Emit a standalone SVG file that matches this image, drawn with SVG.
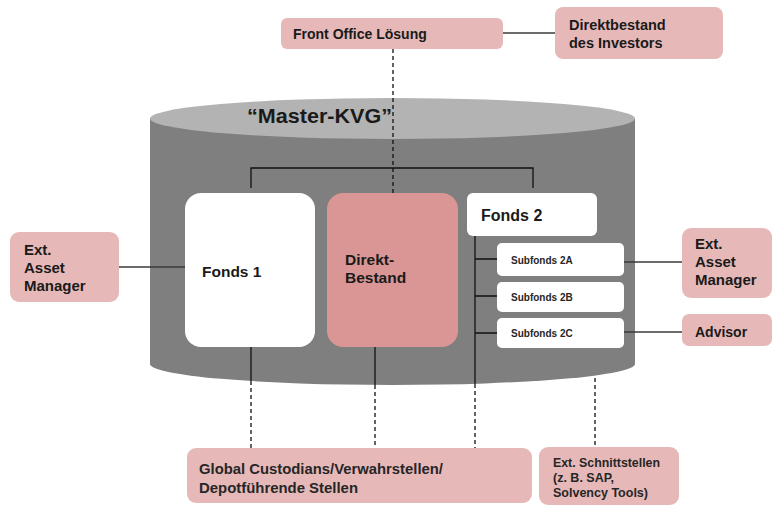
<svg xmlns="http://www.w3.org/2000/svg" width="773" height="508" viewBox="0 0 773 508">
<style>
.pink{fill:#e6b9b8}
.wbox{fill:#ffffff}
.t{font-family:"Liberation Sans",Arial,sans-serif;font-weight:bold;fill:#1a1a1a}
.tm{font-family:"Liberation Sans",Arial,sans-serif;font-weight:bold;fill:#262626}
.solid{stroke:#3a3a3a;stroke-width:1.5;fill:none}
.inner{stroke:#111111;stroke-width:1.3;fill:none}
.dash{stroke:#111111;stroke-width:1.3;stroke-dasharray:4 3;fill:none}
</style>
<rect width="773" height="508" fill="#ffffff"/>
<g id="master-kvg">
<path d="M150,118 L150,364 A242.5,21 0 0 0 635,364 L635,118 Z" fill="#7f7f7f"/>
<ellipse cx="392.5" cy="118.5" rx="242.5" ry="20.5" fill="#b3b3b3"/>
<text class="t" x="247" y="123" font-size="20" textLength="145" lengthAdjust="spacingAndGlyphs">“Master-KVG”</text>
</g>
<g id="connectors">
<path class="inner" d="M251,188 V168 H533 V188"/>
<path class="dash" d="M393,49 V193"/>
<path class="solid" d="M119,267 H185"/>
<path class="solid" d="M503,33 H555"/>
<path class="inner" d="M251,347 V381"/>
<path class="dash" d="M251,381 V448"/>
<path class="inner" d="M375,347 V385"/>
<path class="dash" d="M375,385 V448"/>
<path class="inner" d="M475,236 V384"/>
<path class="dash" d="M475,384 V448"/>
<path class="dash" d="M595,378 V447"/>
<path class="inner" d="M475,259 H497 M475,296 H497 M475,333 H497"/>
<path class="solid" d="M624,262 H682"/>
<path class="solid" d="M624,332 H682"/>
</g>
<g id="front-office">
<rect class="pink" x="281" y="18" width="222" height="31" rx="6"/>
<text class="t" x="293" y="39" font-size="14">Front Office Lösung</text>
</g>
<g id="direktbestand-investor">
<rect class="pink" x="555" y="7" width="168" height="52" rx="8"/>
<text class="t" x="569" y="30" font-size="14.5">Direktbestand</text>
<text class="t" x="569" y="48" font-size="14.5">des Investors</text>
</g>
<g id="ext-am-left">
<rect class="pink" x="10" y="232" width="109" height="70" rx="9"/>
<text class="t" x="24" y="255" font-size="15">Ext.</text>
<text class="t" x="24" y="273" font-size="15">Asset</text>
<text class="t" x="24" y="291" font-size="15">Manager</text>
</g>
<g id="fonds1">
<rect class="wbox" x="185" y="193" width="130" height="154" rx="16"/>
<text class="t" x="202" y="277" font-size="15.5">Fonds 1</text>
</g>
<g id="direkt-bestand">
<rect x="327" y="193" width="131" height="154" rx="16" fill="#d99694"/>
<text class="t" x="345" y="265" font-size="15.5">Direkt-</text>
<text class="t" x="345" y="283" font-size="15.5">Bestand</text>
</g>
<g id="fonds2">
<rect class="wbox" x="467" y="193" width="130" height="43" rx="6"/>
<text class="t" x="481" y="221" font-size="16">Fonds 2</text>
</g>
<g id="subfonds2a">
<rect class="wbox" x="497" y="243" width="127" height="33" rx="5"/>
<text class="tm" x="511" y="264" font-size="10">Subfonds 2A</text>
</g>
<g id="subfonds2b">
<rect class="wbox" x="497" y="282" width="127" height="30" rx="5"/>
<text class="tm" x="511" y="301" font-size="10">Subfonds 2B</text>
</g>
<g id="subfonds2c">
<rect class="wbox" x="497" y="318" width="127" height="30" rx="5"/>
<text class="tm" x="511" y="337" font-size="10">Subfonds 2C</text>
</g>
<g id="ext-am-right">
<rect class="pink" x="682" y="228" width="90" height="70" rx="9"/>
<text class="t" x="695" y="249" font-size="15">Ext.</text>
<text class="t" x="695" y="267" font-size="15">Asset</text>
<text class="t" x="695" y="285" font-size="15">Manager</text>
</g>
<g id="advisor">
<rect class="pink" x="682" y="314" width="90" height="32" rx="7"/>
<text class="t" x="695" y="337" font-size="14">Advisor</text>
</g>
<g id="global-custodians">
<rect class="pink" x="187" y="448" width="345" height="55" rx="9"/>
<text class="tm" x="199" y="474" font-size="15.5" textLength="244" lengthAdjust="spacingAndGlyphs">Global Custodians/Verwahrstellen/</text>
<text class="tm" x="199" y="493" font-size="15.5" textLength="159" lengthAdjust="spacingAndGlyphs">Depotführende  Stellen</text>
</g>
<g id="ext-schnittstellen">
<rect class="pink" x="539" y="447" width="140" height="58" rx="9"/>
<text class="tm" x="553" y="467" font-size="12.5" textLength="107" lengthAdjust="spacingAndGlyphs">Ext. Schnittstellen</text>
<text class="tm" x="553" y="482" font-size="12.5">(z. B. SAP,</text>
<text class="tm" x="553" y="497" font-size="12.5" textLength="95" lengthAdjust="spacingAndGlyphs">Solvency Tools)</text>
</g>
</svg>
